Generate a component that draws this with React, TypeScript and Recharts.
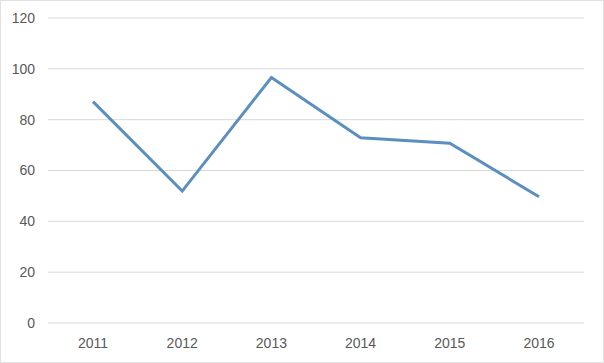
import React from "react";
import { LineChart, Line, XAxis, YAxis, CartesianGrid } from "recharts";

const years = ["2011", "2012", "2013", "2014", "2015", "2016"];
const values = [87.1, 51.9, 96.6, 72.9, 70.7, 49.7];
const yTicks = [0, 20, 40, 60, 80, 100, 120];

const data = years.map((y, i) => ({ year: y, value: values[i] }));

const tickStyle = { fill: "#595959", fontSize: 14, fontFamily: "Liberation Sans, Arial, sans-serif" };

export default function App() {
  return (
    <div
      style={{
        position: "absolute",
        left: 0,
        top: 0,
        width: 604,
        height: 363,
        background: "#ffffff",
        boxSizing: "border-box",
        border: "1px solid #e2e2e2",
      }}
    >
      <LineChart
        width={602}
        height={361}
        data={data}
        margin={{ top: 17, right: 19, bottom: 9, left: 7 }}
      >
        <CartesianGrid vertical={false} stroke="#d9d9d9" strokeWidth={1} />
        <XAxis
          dataKey="year"
          axisLine={false}
          tickLine={false}
          height={30}
          tickMargin={9}
          padding={{ left: 45, right: 45 }}
          tick={tickStyle}
        />
        <YAxis
          domain={[0, 120]}
          ticks={yTicks}
          axisLine={false}
          tickLine={false}
          width={40}
          tickMargin={7}
          tick={tickStyle}
        />
        <Line
          type="linear"
          dataKey="value"
          stroke="#5b8fc0"
          strokeWidth={3}
          dot={false}
          isAnimationActive={false}
        />
      </LineChart>
    </div>
  );
}
